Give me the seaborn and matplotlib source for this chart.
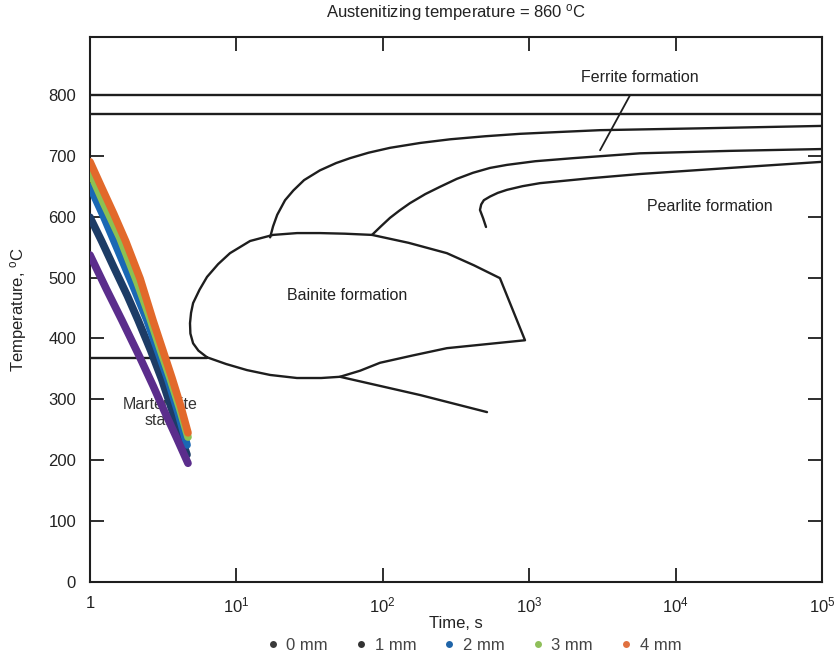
import numpy as np
import pandas as pd
import matplotlib
matplotlib.use("Agg")
import matplotlib.pyplot as plt
from matplotlib.lines import Line2D
import seaborn as sns

# ---------------- data ----------------
# cooling curves (time s, temperature C) per depth
depth_labels = ["0 mm", "1 mm", "2 mm", "3 mm", "4 mm"]
time_0mm = [1.0, 1.3, 1.65, 2.2, 2.7, 3.2, 3.9, 4.67]
temp_0mm = [537, 480, 430, 368, 322, 282, 237, 195]
time_1mm = [1.0, 1.2, 1.46, 1.8, 2.13, 2.6, 3.10, 3.8, 4.6]
temp_1mm = [599, 560, 516, 470, 430, 380, 332, 268, 209]
time_2mm = [1.0, 1.25, 1.55, 2.0, 2.45, 2.9, 3.41, 4.0, 4.6]
temp_2mm = [649, 598, 545, 482, 430, 380, 332, 278, 225]
time_3mm = [1.0, 1.25, 1.60, 2.1, 2.57, 3.0, 3.52, 4.1, 4.67]
temp_3mm = [673, 620, 565, 492, 433, 384, 335, 285, 238]
time_4mm = [1.0, 1.2, 1.45, 1.75, 2.2, 2.69, 3.15, 3.63, 4.15, 4.67]
temp_4mm = [690, 648, 605, 560, 498, 430, 380, 335, 290, 245]

# transformation diagram lines
ae3_temp = 800
ae1_temp = 768
ms_temp = 368
ms_time = [1.0, 6.3]

ferrite_time = [17.0, 17.8, 19.0, 21.5, 24.5, 29.0, 37.2, 48, 59.7, 80, 112, 180, 288,
                500, 865, 1600, 3048, 14690, 100000]
ferrite_temp = [566, 584, 603, 627, 643, 660, 676, 688, 696, 705, 713, 721, 727,
                732, 736, 739, 742, 745, 749]

pearlite_start_time = [84.4, 97, 112, 130, 153, 195, 246, 320, 413, 540, 705, 1100,
                       1991, 5713, 23540, 100000]
pearlite_start_temp = [570, 584, 598, 610, 622, 637, 649, 662, 672, 680, 685, 691,
                       696, 704, 708, 711]

pearlite_end_time = [507, 485, 461, 470, 490, 540, 610, 705, 900, 1186, 2601, 5713,
                     23540, 100000]
pearlite_end_temp = [583, 597, 611, 620, 627, 633, 639, 644, 650, 655, 663, 670,
                     680, 690]

bainite_time = [6.3, 5.5, 5.06, 4.85, 4.82, 4.9, 5.06, 5.6, 6.3, 7.5, 9.04, 12.4, 17.8,
                26, 37.2, 55, 84.4, 150, 274, 420, 631, 936, 274, 160, 95.7, 70,
                51, 38, 25.9, 17, 11.8, 8.5, 6.3]
bainite_temp = [369, 380, 392, 408, 425, 442, 458, 480, 501, 522, 540, 560, 570,
                573, 573, 572, 570, 557, 540, 520, 499, 397, 384, 372, 360, 347,
                337, 335, 335, 340, 348, 358, 369]

tail_time = [51, 180, 515]
tail_temp = [337, 307, 279]

x_ticks = [1, 10, 100, 1000, 10000, 100000]
x_ticklabels = ["1", "$10^1$", "$10^2$", "$10^3$", "$10^4$", "$10^5$"]
y_ticks = [0, 100, 200, 300, 400, 500, 600, 700, 800]

# ---------------- styling ----------------
sns.set_theme(style="ticks")
plt.rcParams["font.family"] = ["Liberation Sans", "DejaVu Sans"]
plt.rcParams["mathtext.default"] = "regular"

colors = ["#5b2d8c", "#1d3c66", "#1a68b4", "#8cc152", "#e2692b"]
legend_colors = ["#3a3a3a", "#333333", "#1f64a8", "#8fbf5a", "#e0703f"]

fig = plt.figure(figsize=(8.34, 6.60), dpi=100)
ax = fig.add_axes([90 / 834, 78 / 660, (822 - 90) / 834, (582 - 37) / 660])

black = "#1e1e1e"
lw = 1.7

# horizontal lines
ax.axhline(ae3_temp, color=black, lw=lw, zorder=2)
ax.axhline(ae1_temp, color=black, lw=lw, zorder=2)
ax.plot(ms_time, [ms_temp, ms_temp], color=black, lw=lw, zorder=2)

for tt, TT in [(ferrite_time, ferrite_temp),
               (pearlite_start_time, pearlite_start_temp),
               (pearlite_end_time, pearlite_end_temp),
               (bainite_time, bainite_temp),
               (tail_time, tail_temp)]:
    sns.lineplot(x=tt, y=TT, ax=ax, sort=False, estimator=None, color=black,
                 lw=lw, zorder=2)

# cooling curves
frames = []
for lab, tt, TT in zip(depth_labels,
                       [time_0mm, time_1mm, time_2mm, time_3mm, time_4mm],
                       [temp_0mm, temp_1mm, temp_2mm, temp_3mm, temp_4mm]):
    frames.append(pd.DataFrame({"time": tt, "temp": TT, "depth": lab}))
df = pd.concat(frames, ignore_index=True)
draw_order = ["1 mm", "2 mm", "3 mm", "4 mm", "0 mm"]
color_map = dict(zip(depth_labels, colors))
for lab in draw_order:
    sub = df[df["depth"] == lab]
    sns.lineplot(data=sub, x="time", y="temp", ax=ax, sort=False, estimator=None,
                 color=color_map[lab], lw=5.5, solid_capstyle="round",
                 solid_joinstyle="round", zorder=4, legend=False)

# text labels
ax.annotate("Ferrite formation", xy=(3048, 709), xytext=(5700, 829),
            ha="center", va="center", fontsize=11.5, color="#222222",
            arrowprops=dict(arrowstyle="-", color=black, lw=1.3,
                            shrinkA=6, shrinkB=0))
ax.text(17200, 617, "Pearlite formation", ha="center", va="center",
        fontsize=11.5, color="#222222")
ax.text(57, 470, "Bainite formation", ha="center", va="center",
        fontsize=11.5, color="#222222")
ax.text(3.0, 278, "Martensite\nstart", ha="center", va="center",
        fontsize=11.5, color="#333333", zorder=1, linespacing=1.1)

# axes
ax.set_xscale("log")
ax.set_xlim(1, 1e5)
ax.set_ylim(0, 895)
ax.set_xticks(x_ticks)
ax.set_xticklabels(x_ticklabels)
ax.xaxis.set_minor_locator(matplotlib.ticker.NullLocator())
ax.set_yticks(y_ticks)
ax.tick_params(axis="both", which="major", direction="in", length=10, width=1.3,
               top=True, right=True, labelsize=12, colors=black,
               labelcolor="#222222")
ax.tick_params(axis="y", pad=10)
ax.tick_params(axis="x", pad=10)
for s in ax.spines.values():
    s.set_color(black)
    s.set_linewidth(1.5)

ax.set_xlabel("Time, s", fontsize=12, color="#222222", labelpad=0)
ax.set_ylabel("Temperature, $^o$C", fontsize=12, color="#222222", labelpad=14)
ax.set_title("Austenitizing temperature = 860 $^o$C", fontsize=12,
             color="#222222", pad=14)

handles = [Line2D([], [], marker="o", linestyle="", markersize=5,
                  color=c, markeredgewidth=0) for c in legend_colors]
fig.legend(handles, depth_labels, loc="center", bbox_to_anchor=(0.562, 0.022),
           ncol=5, frameon=False, fontsize=12, handletextpad=-0.2,
           columnspacing=1.0, labelcolor="#444444")

fig.savefig("out.png", dpi=100)
